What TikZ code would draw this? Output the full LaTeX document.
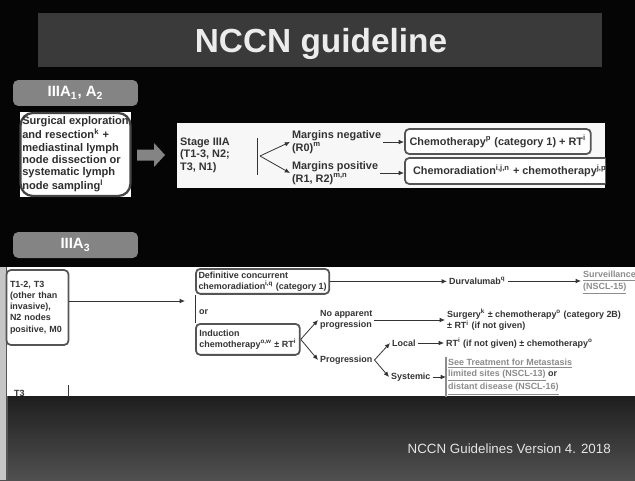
\documentclass[tikz,border=0pt]{standalone}
\usepackage{fontspec}
\setmainfont{Liberation Sans}
\usetikzlibrary{arrows.meta,positioning,shapes.arrows}
\definecolor{cBg}{HTML}{050505}
\definecolor{cBar}{HTML}{3A3A3A}
\definecolor{cTab}{HTML}{848484}
\definecolor{cInk}{HTML}{333333}
\definecolor{cEdge}{HTML}{555555}
\definecolor{cLink}{HTML}{8C8C8C}
\definecolor{cPanel}{HTML}{F7F7F7}
\definecolor{cFootA}{HTML}{1E1E1E}
\definecolor{cFootB}{HTML}{505050}
\newcommand\fsA{\fontsize{6.2}{7.1}\selectfont\bfseries}
\newcommand\fsB{\fontsize{5.1}{6.4}\selectfont\bfseries}
\newcommand\sps[1]{\textsuperscript{#1}}
\tikzset{
  tab/.style={rounded corners=3pt,fill=cTab,text=white,minimum width=2.5cm,
              minimum height=0.52cm,font=\fontsize{8.5}{10}\selectfont\bfseries},
  panel/.style={fill=cPanel,inner sep=0pt},
  txtA/.style={anchor=west,align=left,text=cInk,font=\fsA,inner sep=1pt},
  txtB/.style={anchor=west,align=left,text=cInk,font=\fsB,inner sep=1pt},
  linkt/.style={txtB,text=cLink},
  stepbox/.style={rounded corners=2.5pt,draw=cEdge,line width=1pt,fill=white,
              inner sep=2pt,align=left,text=cInk},
  arr/.style={-{Latex[length=3pt,width=2.6pt]},line width=0.45pt,cInk},
  fork/.style={line width=0.45pt,cInk},
}
\begin{document}
\begin{tikzpicture}[x=0.02cm,y=-0.02cm]
  \useasboundingbox (0,0) rectangle (635,480);
  \fill[cBg] (0,0) rectangle (635,480);
  \shade[top color=cFootA,bottom color=cFootB] (0,396) rectangle (635,480);
  \fill[gray!45] (0,267) rectangle (7,480);
  \draw[cEdge,line width=0.6pt] (7,267) -- (7,480);
  % title
  \node[fill=cBar,minimum width=11.28cm,minimum height=1.08cm] (bar) at (320,40) {};
  \node[anchor=base,text=gray!15,font=\fontsize{19}{22}\selectfont\bfseries] (title)
     at (321,52) {NCCN guideline};
  % IIIA1, A2
  \node[tab] (tabA) at (75.5,93) {IIIA\textsubscript{1}, A\textsubscript{2}};
  \fill[white] (20,112) rectangle (131,197);
  \node[rounded corners=7pt,draw=cEdge!80!black,line width=1.3pt,minimum width=2.18cm,
        minimum height=1.66cm,inner sep=1pt,align=left,text=cInk!90!black,
        font=\fontsize{6.3}{7}\selectfont\bfseries] (surg) at (75.5,154.5)
     {Surgical exploration\\and resection\sps{k} +\\mediastinal lymph\\node dissection or\\
      systematic lymph\\node sampling\sps{l}};
  \fill[cTab] (137,149.5) -- (154,149.5) -- (154,143) -- (165,155)
     -- (154,167) -- (154,160.5) -- (137,160.5) -- cycle;
  \node[panel,minimum width=8.56cm,minimum height=1.3cm] (panA) at (391,155.5) {};
  \node[txtA] (stage) at (178,155) {Stage IIIA\\(T1-3, N2;\\T3, N1)};
  \draw[fork] (257,138) -- (257,175);
  \coordinate (splitA) at (260,156);
  \node[txtA] (neg) at (290,142) {Margins negative\\(R0)\sps{m}};
  \node[txtA] (pos) at (290,173) {Margins positive\\(R1, R2)\sps{m,n}};
  \draw[arr] (splitA) -- (neg.west);
  \draw[arr] (splitA) -- (pos.west);
  \node[stepbox,font=\fsA,minimum width=3.72cm,minimum height=0.5cm,anchor=west] (chemo)
     at (404,141.5) {Chemotherapy\sps{p} (category 1) + RT\sps{i}};
  \begin{scope}
    \clip (panA.south west) rectangle (panA.north east);
    \node[stepbox,font=\fsA,minimum width=4.2cm,minimum height=0.52cm,anchor=west] (chemrad)
       at (404,171) {Chemoradiation\sps{i,j,n} + chemotherapy\sps{j,p}};
  \end{scope}
  \draw[arr] (neg.east) -- (neg.east -| chemo.west);
  \draw[arr] (pos.east) -- (pos.east -| chemrad.west);
  % IIIA3
  \node[tab] (tabB) at (75.5,245) {IIIA\textsubscript{3}};
  \node[panel,fill=white,minimum width=12.56cm,minimum height=2.58cm] (panB) at (321,331.5) {};
  \node[stepbox,font=\fsB,minimum width=1.22cm,minimum height=1.5cm,text width=1.1cm] (stg3)
     at (37.5,307.5) {T1-2, T3\\(other than\\invasive),\\N2 nodes\\positive, M0};
  \coordinate (orin) at (185,301);
  \draw[arr] (stg3.east |- orin) -- (orin);
  \node[stepbox,font=\fsB,minimum width=2.58cm,minimum height=0.5cm,anchor=north west,
        inner sep=1.5pt] (defc) at (195,268)
     {Definitive concurrent\\chemoradiation\sps{i,q} (category 1)};
  \node[txtB] (ortxt) at (197,312) {or};
  \node[stepbox,font=\fsB,minimum width=2.08cm,minimum height=0.62cm,anchor=north west,
        inner sep=1.5pt] (induc) at (195,323)
     {Induction\\chemotherapy\sps{o,w} ± RT\sps{i}};
  \draw[fork] (defc.south west) -- (induc.north west);
  \node[txtB] (durv) at (447,281) {Durvalumab\sps{q}};
  \node[linkt] (surv) at (581,283) {\underline{Surveillance}\\\underline{(NSCL-15)}};
  \draw[arr] (defc.east) -- (defc.east -| durv.west);
  \draw[arr] (durv.east) -- (durv.east -| surv.west);
  \node[txtB] (noapp) at (318,320) {No apparent\\progression};
  \node[txtB] (prog) at (318,360) {Progression};
  \draw[arr] (induc.east) -- (noapp.west);
  \draw[arr] (induc.east) -- (prog.west);
  \node[txtB] (surgB) at (445,320)
     {Surgery\sps{k} ± chemotherapy\sps{o} (category 2B)\\± RT\sps{i} (if not given)};
  \draw[arr] (noapp.east) -- (noapp.east -| surgB.west);
  \node[txtB] (local) at (390,343) {Local};
  \node[txtB] (syst) at (389,377) {Systemic};
  \draw[arr] (prog.east) -- (local.west);
  \draw[arr] (prog.east) -- (syst.west);
  \node[txtB] (rtl) at (444,343) {RT\sps{i} (if not given) ± chemotherapy\sps{o}};
  \draw[arr] (local.east) -- (rtl.west);
  \node[linkt] (seet) at (446,377) {\underline{See Treatment for Metastasis}\\
     \underline{limited sites (NSCL-13)} {\color{cInk}or}\\\underline{distant disease (NSCL-16)}};
  \draw[cLink,line width=0.8pt] (seet.north west) -- (seet.south west);
  \draw[arr] (syst.east) -- (seet.west);
  \begin{scope}
    \clip (panB.south west) rectangle (panB.north east);
    \node[txtB,anchor=north west] (tthree) at (12,388) {T3};
    \draw[fork] (68,385) -- (68,400);
  \end{scope}
  % footer
  \node[anchor=base east,text=gray!20,font=\fontsize{7.6}{9}\selectfont] (foot)
     at (617,453) {NCCN Guidelines Version 4. 2018};
\end{tikzpicture}
\end{document}
